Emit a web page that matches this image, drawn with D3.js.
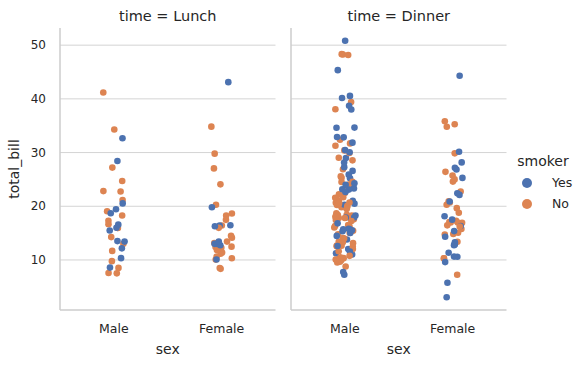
<!DOCTYPE html>
<html><head><meta charset="utf-8">
<script src="https://cdn.jsdelivr.net/npm/d3@7"></script>
<style>body{margin:0;background:#fff}svg{display:block;font-family:"DejaVu Sans",sans-serif}</style>
</head><body><svg id="c" width="585" height="365"></svg>
<script>
// ---- data (tips dataset) ----
const panels = ["Lunch", "Dinner"];
const sexCategories = ["Male", "Female"];
const smokerLevels = ["Yes", "No"];
const yTicks = [10, 20, 30, 40, 50];

const lunchBill = [27.2,22.76,17.29,19.44,16.66,10.07,32.68,15.98,34.83,13.03,18.28,24.71,21.16,
 10.65,12.43,24.08,11.69,13.42,14.26,15.95,12.48,29.8,8.52,14.52,11.38,22.82,19.08,20.27,11.17,12.26,18.26,8.51,10.33,14.15,16.0,13.16,17.47,34.3,41.19,27.05,16.43,8.35,18.64,11.87,9.78,7.51,
 19.81,28.44,15.48,16.58,7.56,10.34,43.11,13.0,13.51,18.71,12.74,13.0,16.4,20.53,16.47,
 12.16,13.42,8.58,15.98,13.42,16.27,10.09];
const lunchSex = "MMMMMFMMFMMMM"+"FFFMFMMFFMFFMMFFFFFFFMFFMMFFFFFMM"+"FMMMMMFFMMFFFMF"+"MFMFMFF";
const lunchSmoker = "NNNYNNYNNNNNN"+"NNNNNNNNNNNNNNNNNNNNNYNNNNNNNNNNN"+"YYYYNYYYYYYYYYY"+"YYYNYYY";

const dinnerBill = [16.99,10.34,21.01,23.68,24.59,25.29,8.77,26.88,15.04,14.78,10.27,35.26,15.42,18.43,14.83,21.58,10.33,16.29,16.97,20.65,
 17.92,20.29,15.77,39.42,19.82,17.81,13.37,12.69,21.7,19.65,9.55,18.35,15.06,20.69,17.78,24.06,16.31,16.93,18.69,31.27,
 16.04,17.46,13.94,9.68,30.4,18.29,22.23,32.4,28.55,18.04,12.54,10.29,34.81,9.94,25.56,19.49,38.01,26.41,11.24,48.27,
 20.29,13.81,11.02,18.29,17.59,20.08,16.45,3.07,20.23,15.01,12.02,17.07,26.86,25.28,14.73,10.51,17.92,
 28.97,22.49,5.75,16.32,22.75,40.17,27.28,12.03,21.01,12.46,11.35,15.38,44.3,22.42,20.92,15.36,20.49,25.21,18.24,14.31,14.0,7.25,38.07,23.95,25.71,17.31,29.93,
 14.07,13.13,17.26,24.55,19.77,29.85,48.17,25.0,13.39,16.49,21.5,12.66,16.21,13.81,17.51,24.52,20.76,31.71,10.59,10.63,50.81,15.81,7.25,31.85,16.82,32.9,17.89,14.48,9.6,34.63,34.65,23.33,45.35,23.17,40.55,20.69,20.9,30.46,18.15,23.1,15.69,
 26.59,38.73,24.27,12.76,30.06,25.89,48.33,13.27,28.17,12.9,28.15,11.59,7.74,30.14,
 20.45,13.28,22.12,24.01,15.69,11.61,10.77,15.53,10.07,12.6,32.83,35.83,29.03,27.18,22.67,17.82,18.78];
const dinnerSex = "FMMMFMMMMMMFMMFMFMFM"+"MFFMMMMMMFMMFFMMMFMM"+"MMMMMMMMMMMFFMMMMFMM"+"MMMMMMFFMMMFFFFMM"+
 "MMFFFMMMMMFFFFFMMMMFMFMMFFM"+
 "MMMMMFMFFMMMFMFMMMFFMMMMMMMMFMMMMMMMFMFMM"+
 "MMMFMMMFFFMMMF"+
 "MMFMMMMMMMMFMFMMF";
const dinnerSmoker = "NNNNNNNNNNNNNNNNNNNN"+"NNNNNNNNNNNNNNNNNNNN"+"NNNNNNNNNNNNNNNNYNYN"+"YYYYNNNYNYNNYYNNY"+
 "YNYYNYYYYNYYYYNYYYNYNNNNNNN"+
 "NNNNNNNNNNNNNN"+"Y"+"NNN"+"YYYYYYYYYYYYYYYYY"+"N"+"YYYYY"+
 "YYYYYYNYYYYYYY"+
 "NNYYYNNYNYYNNYYNN";

const panelData = {
  Lunch: {bill: lunchBill, sex: lunchSex, smoker: lunchSmoker},
  Dinner: {bill: dinnerBill, sex: dinnerSex, smoker: dinnerSmoker}
};

// ---- drawing ----
const svg = d3.select("#c");
const ink = "#262626", gridC = "#d4d4d4", spineC = "#cccccc";
const colors = d3.scaleOrdinal().domain(smokerLevels).range(["#4c72b0", "#dd8452"]);
const yTop = 28, yBottom = 310;
const panelX = [[60, 275.5], [291, 506.5]];
const allBills = lunchBill.concat(dinnerBill);
const ext = d3.extent(allBills), pad = (ext[1] - ext[0]) * 0.05;
const y = d3.scaleLinear().domain([ext[0] - pad, ext[1] + pad]).range([yBottom, yTop]);
const rand = d3.randomUniform.source(d3.randomLcg(0.4217))(-0.1, 0.1);

panels.forEach((p, pi) => {
  const [x0, x1] = panelX[pi];
  const x = d3.scalePoint().domain(sexCategories).range([x0, x1]).padding(0.5);
  const g = svg.append("g");
  g.selectAll("line.grid").data(yTicks).join("line")
    .attr("x1", x0).attr("x2", x1).attr("y1", d => y(d)).attr("y2", d => y(d))
    .attr("stroke", gridC).attr("stroke-width", 1);
  g.append("line").attr("x1", x0).attr("x2", x0).attr("y1", yTop).attr("y2", yBottom)
    .attr("stroke", spineC).attr("stroke-width", 1.5);
  g.append("line").attr("x1", x0).attr("x2", x1).attr("y1", yBottom).attr("y2", yBottom)
    .attr("stroke", spineC).attr("stroke-width", 1.5);
  if (pi === 0) {
    g.selectAll("text.yt").data(yTicks).join("text")
      .attr("x", x0 - 14).attr("y", d => y(d)).attr("dy", "0.35em")
      .attr("text-anchor", "end").attr("font-size", 12).attr("fill", ink).text(d => d);
  }
  g.selectAll("text.xt").data(sexCategories).join("text")
    .attr("x", d => x(d)).attr("y", 333).attr("text-anchor", "middle")
    .attr("font-size", 12.5).attr("fill", ink).text(d => d);
  g.append("text").attr("x", (x0 + x1) / 2).attr("y", 354).attr("text-anchor", "middle")
    .attr("font-size", 14).attr("fill", ink).text("sex");
  g.append("text").attr("x", (x0 + x1) / 2).attr("y", 21).attr("text-anchor", "middle")
    .attr("font-size", 14.5).attr("fill", ink).text("time = " + p);
  const d = panelData[p];
  const pts = d.bill.map((v, i) => ({
    v, sex: d.sex[i] === "M" ? "Male" : "Female",
    smoker: d.smoker[i] === "Y" ? "Yes" : "No", j: rand()
  }));
  const bw = x.step();
  g.selectAll("circle").data(pts).join("circle")
    .attr("cx", q => x(q.sex) + q.j * bw).attr("cy", q => y(q.v)).attr("r", 3.3)
    .attr("fill", q => colors(q.smoker));
});

svg.append("text").attr("transform", `translate(19,${(yTop + yBottom) / 2}) rotate(-90)`)
  .attr("text-anchor", "middle").attr("font-size", 14).attr("fill", ink).text("total_bill");

const lg = svg.append("g");
lg.append("text").attr("x", 543).attr("y", 166).attr("text-anchor", "middle")
  .attr("font-size", 14).attr("fill", ink).text("smoker");
smokerLevels.forEach((s, i) => {
  const yy = 183 + i * 21;
  lg.append("circle").attr("cx", 527).attr("cy", yy).attr("r", 5).attr("fill", colors(s));
  lg.append("text").attr("x", 552).attr("y", yy).attr("dy", "0.35em")
    .attr("font-size", 12.5).attr("fill", ink).text(s);
});
</script></body></html>
